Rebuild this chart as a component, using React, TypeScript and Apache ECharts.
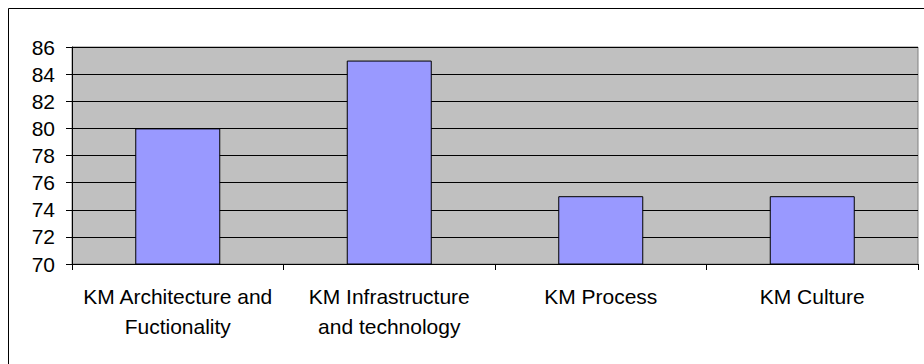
import React, { useEffect, useRef } from "react";
import * as echarts from "echarts";

const categories = [
  "KM Architecture and\nFuctionality",
  "KM Infrastructure\nand technology",
  "KM Process",
  "KM Culture",
];
const values = [80, 85, 75, 75];
const yMin = 70;
const yMax = 86;
const yStep = 2;

export default function App() {
  const ref = useRef<HTMLDivElement>(null);
  useEffect(() => {
    if (!ref.current) return;
    const chart = echarts.init(ref.current, null, { renderer: "svg" });
    const font = "Arial, 'Liberation Sans', sans-serif";
    chart.setOption({
      animation: false,
      backgroundColor: "#ffffff",
      textStyle: { fontFamily: font },
      graphic: [
        {
          type: "rect",
          shape: { x: 8.5, y: 8.5, width: 1200, height: 1200 },
          style: { fill: "none", stroke: "#000000", lineWidth: 1 },
          silent: true,
          z: -10,
        },
      ],
      grid: {
        left: 72,
        right: 6,
        top: 47,
        bottom: 100,
        show: true,
        backgroundColor: "#C0C0C0",
        borderColor: "#808080",
        borderWidth: 1,
      },
      xAxis: {
        type: "category",
        data: categories,
        boundaryGap: true,
        axisLine: { show: true, lineStyle: { color: "#000000", width: 1 } },
        axisTick: { show: true, length: 6, alignWithLabel: false, lineStyle: { color: "#000000" } },
        axisLabel: {
          color: "#000000",
          fontSize: 21,
          fontFamily: font,
          lineHeight: 30,
          margin: 17,
          interval: 0,
          align: "center",
        },
        splitLine: { show: false },
      },
      yAxis: {
        type: "value",
        min: yMin,
        max: yMax,
        interval: yStep,
        axisLine: { show: true, lineStyle: { color: "#000000", width: 1 } },
        axisTick: { show: true, length: 6, inside: false, lineStyle: { color: "#000000" } },
        axisLabel: {
          color: "#000000",
          fontSize: 21,
          fontFamily: font,
          margin: 17,
        },
        splitLine: { show: true, lineStyle: { color: "#000000", width: 1 } },
      },
      series: [
        {
          type: "bar",
          data: values,
          barWidth: 85,
          itemStyle: {
            color: "#9999FF",
            borderColor: "#000000",
            borderWidth: 1,
          },
        },
      ],
    });
    return () => chart.dispose();
  }, []);
  return (
    <div
      ref={ref}
      style={{ position: "fixed", left: 0, top: 0, width: 924, height: 364 }}
    />
  );
}
